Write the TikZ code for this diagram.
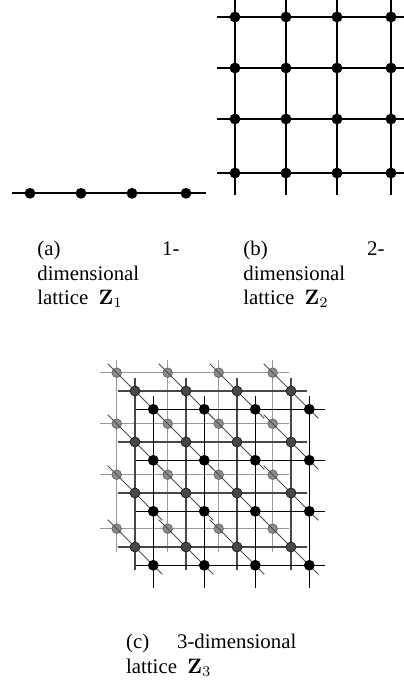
\documentclass[tikz,border=0pt]{standalone}
\usepackage[no-math]{fontspec}
\setmainfont{Liberation Serif}
\newcommand\latlayer[5]{%
  \foreach \g in {0,51,102,156} {
    \draw[#3] ({#1-17},{#2+\g}) -- ({#1+172},{#2+\g});
    \draw[#3] ({#1+\g},{#2-13}) -- ({#1+\g},{#2+179});
  }
  \foreach \gx [count=\i] in {0,51,102,156} {
    \foreach \gy [count=\j] in {0,51,102,156} {
      \node[#4] (#5\i\j) at ({#1+\gx},{#2+\gy}) {};
    }
  }
}
\begin{document}
\begin{tikzpicture}[x=0.48pt,y=-0.48pt,
  lat/.style={line width=0.95pt,black},
  bdot/.style={circle,fill=black,inner sep=0pt,minimum size=5.2pt},
  lightline/.style={line width=0.7pt,black!40},
  darkline/.style={line width=0.7pt,black!72},
  blackline/.style={line width=0.7pt,black},
  lightdot/.style={circle,draw=black!62,line width=0.35pt,fill=black!45,inner sep=0pt,minimum size=4.6pt},
  darkdot/.style={circle,draw=black!88,line width=0.35pt,fill=black!72,inner sep=0pt,minimum size=4.8pt},
  blackdot/.style={circle,fill=black,inner sep=0pt,minimum size=5.2pt},
  diag/.style={line width=0.5pt,black!70},
  captxt/.style={inner sep=0pt,font=\fontsize{10}{12}\selectfont}]
\useasboundingbox (0,0) rectangle (404,681);
% (a) 1-dimensional lattice
\draw[lat] (12,193.3) -- (206,193.3);
\foreach \x [count=\k] in {30,81,132,186} \node[bdot] (a\k) at (\x,193.3) {};
% (b) 2-dimensional lattice
\foreach \g in {0,51,102,156} {
  \draw[lat] (217,{17+\g}) -- (404,{17+\g});
  \draw[lat] ({235+\g},0) -- ({235+\g},195);
}
\foreach \gx [count=\i] in {0,51,102,156} {
  \foreach \gy [count=\j] in {0,51,102,156} {
    \node[bdot] (b\i\j) at ({235+\gx},{17+\gy}) {};
  }
}
% (c) 3-dimensional lattice
\latlayer{116.7}{372.7}{lightline}{lightdot}{l}
\foreach \gx in {0,51,102,156} {
  \foreach \gy in {0,51,102,156} {
    \draw[diag] ({107.7+\gx},{363.7+\gy}) -- ({162.3+\gx},{418.3+\gy});
  }
}
\latlayer{135}{391}{darkline}{darkdot}{d}
\latlayer{153.3}{409.3}{blackline}{blackdot}{k}
% captions
\node[captxt,anchor=base west] (ca1) at (37,255) {(a)};
\node[captxt,anchor=base east] (ca2) at (180,255) {1-};
\node[captxt,anchor=base west] (ca3) at (37,280) {dimensional};
\node[captxt,anchor=base west] (ca4) at (37,304) {lattice\ \ $\mathbf{Z}_1$};
\node[captxt,anchor=base west] (cb1) at (243,255) {(b)};
\node[captxt,anchor=base east] (cb2) at (385,255) {2-};
\node[captxt,anchor=base west] (cb3) at (243,280) {dimensional};
\node[captxt,anchor=base west] (cb4) at (243,304) {lattice\ \ $\mathbf{Z}_2$};
\node[captxt,anchor=base west] (cc1) at (125.7,648.5) {(c)};
\node[captxt,anchor=base east] (cc2) at (296.7,648.5) {3-dimensional};
\node[captxt,anchor=base west] (cc3) at (125.7,673) {lattice\ \ $\mathbf{Z}_3$};
\end{tikzpicture}
\end{document}
